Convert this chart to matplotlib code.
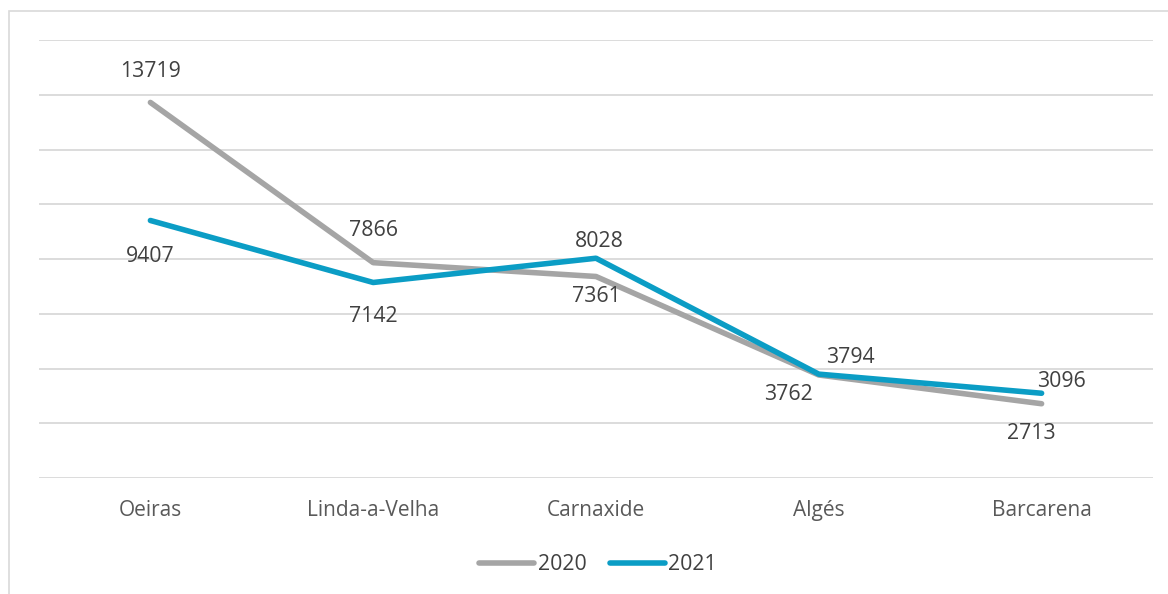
import matplotlib.pyplot as plt
from matplotlib.patches import Rectangle

# data
categories = ["Oeiras", "Linda-a-Velha", "Carnaxide", "Algés", "Barcarena"]
values_2020 = [13719, 7866, 7361, 3762, 2713]
values_2021 = [9407, 7142, 8028, 3794, 3096]

# label offsets in pixels (dx, dy), positive dy = up
offsets_2020 = [(0, 31), (0, 32), (0, -20), (-30, -19), (-10, -30)]
offsets_2021 = [(0, -36), (0, -34), (3, 17), (32, 17), (20, 12)]

GRAY = "#A5A5A5"
BLUE = "#0B9DC5"
TEXT = "#404040"
AXIS_TEXT = "#595959"
GRID = "#D9D9D9"

plt.rcParams["font.family"] = ["Open Sans", "DejaVu Sans"]

fig = plt.figure(figsize=(11.68, 5.94), dpi=100)
ax = fig.add_axes([39 / 1168, 1 - 478 / 594, 1114 / 1168, 438 / 594])

x = list(range(len(categories)))
ax.plot(x, values_2020, color=GRAY, lw=4, solid_capstyle="round",
        solid_joinstyle="round", label="2020", zorder=3)
ax.plot(x, values_2021, color=BLUE, lw=4, solid_capstyle="round",
        solid_joinstyle="round", label="2021", zorder=4)

px = 0.72  # points per pixel at dpi 100
for xi, v, (dx, dy) in zip(x, values_2020, offsets_2020):
    ax.annotate(str(v), (xi, v), xytext=(dx * px, dy * px), textcoords="offset points",
                ha="center", va="center", fontsize=15.3, color=TEXT)
for xi, v, (dx, dy) in zip(x, values_2021, offsets_2021):
    ax.annotate(str(v), (xi, v), xytext=(dx * px, dy * px), textcoords="offset points",
                ha="center", va="center", fontsize=15.3, color=TEXT)

ax.set_xlim(-0.5, len(categories) - 0.5)
ax.set_ylim(0, 16000)
ax.set_yticks(range(0, 16001, 2000))
ax.set_yticklabels([])
ax.tick_params(axis="y", length=0)
ax.set_xticks(x)
ax.set_xticklabels(categories, fontsize=15, color=AXIS_TEXT)
ax.tick_params(axis="x", length=0, pad=15.5)
ax.grid(axis="y", color=GRID, lw=1.3)
ax.set_axisbelow(True)
for s in ax.spines.values():
    s.set_visible(False)

leg = fig.legend(loc="center", bbox_to_anchor=(598 / 1168, 1 - 565 / 594), ncol=2,
                 frameon=False, fontsize=15.3, handlelength=2.6, columnspacing=1.1,
                 handletextpad=0.15)
for t in leg.get_texts():
    t.set_color(TEXT)

# chart area border
fig.patches.append(Rectangle((9 / 1168, -0.01), 1.2, 1 - 11 / 594 + 0.01,
                             transform=fig.transFigure, fill=False,
                             edgecolor="#D9D9D9", lw=1.2))

fig.savefig("out.png", dpi=100)
